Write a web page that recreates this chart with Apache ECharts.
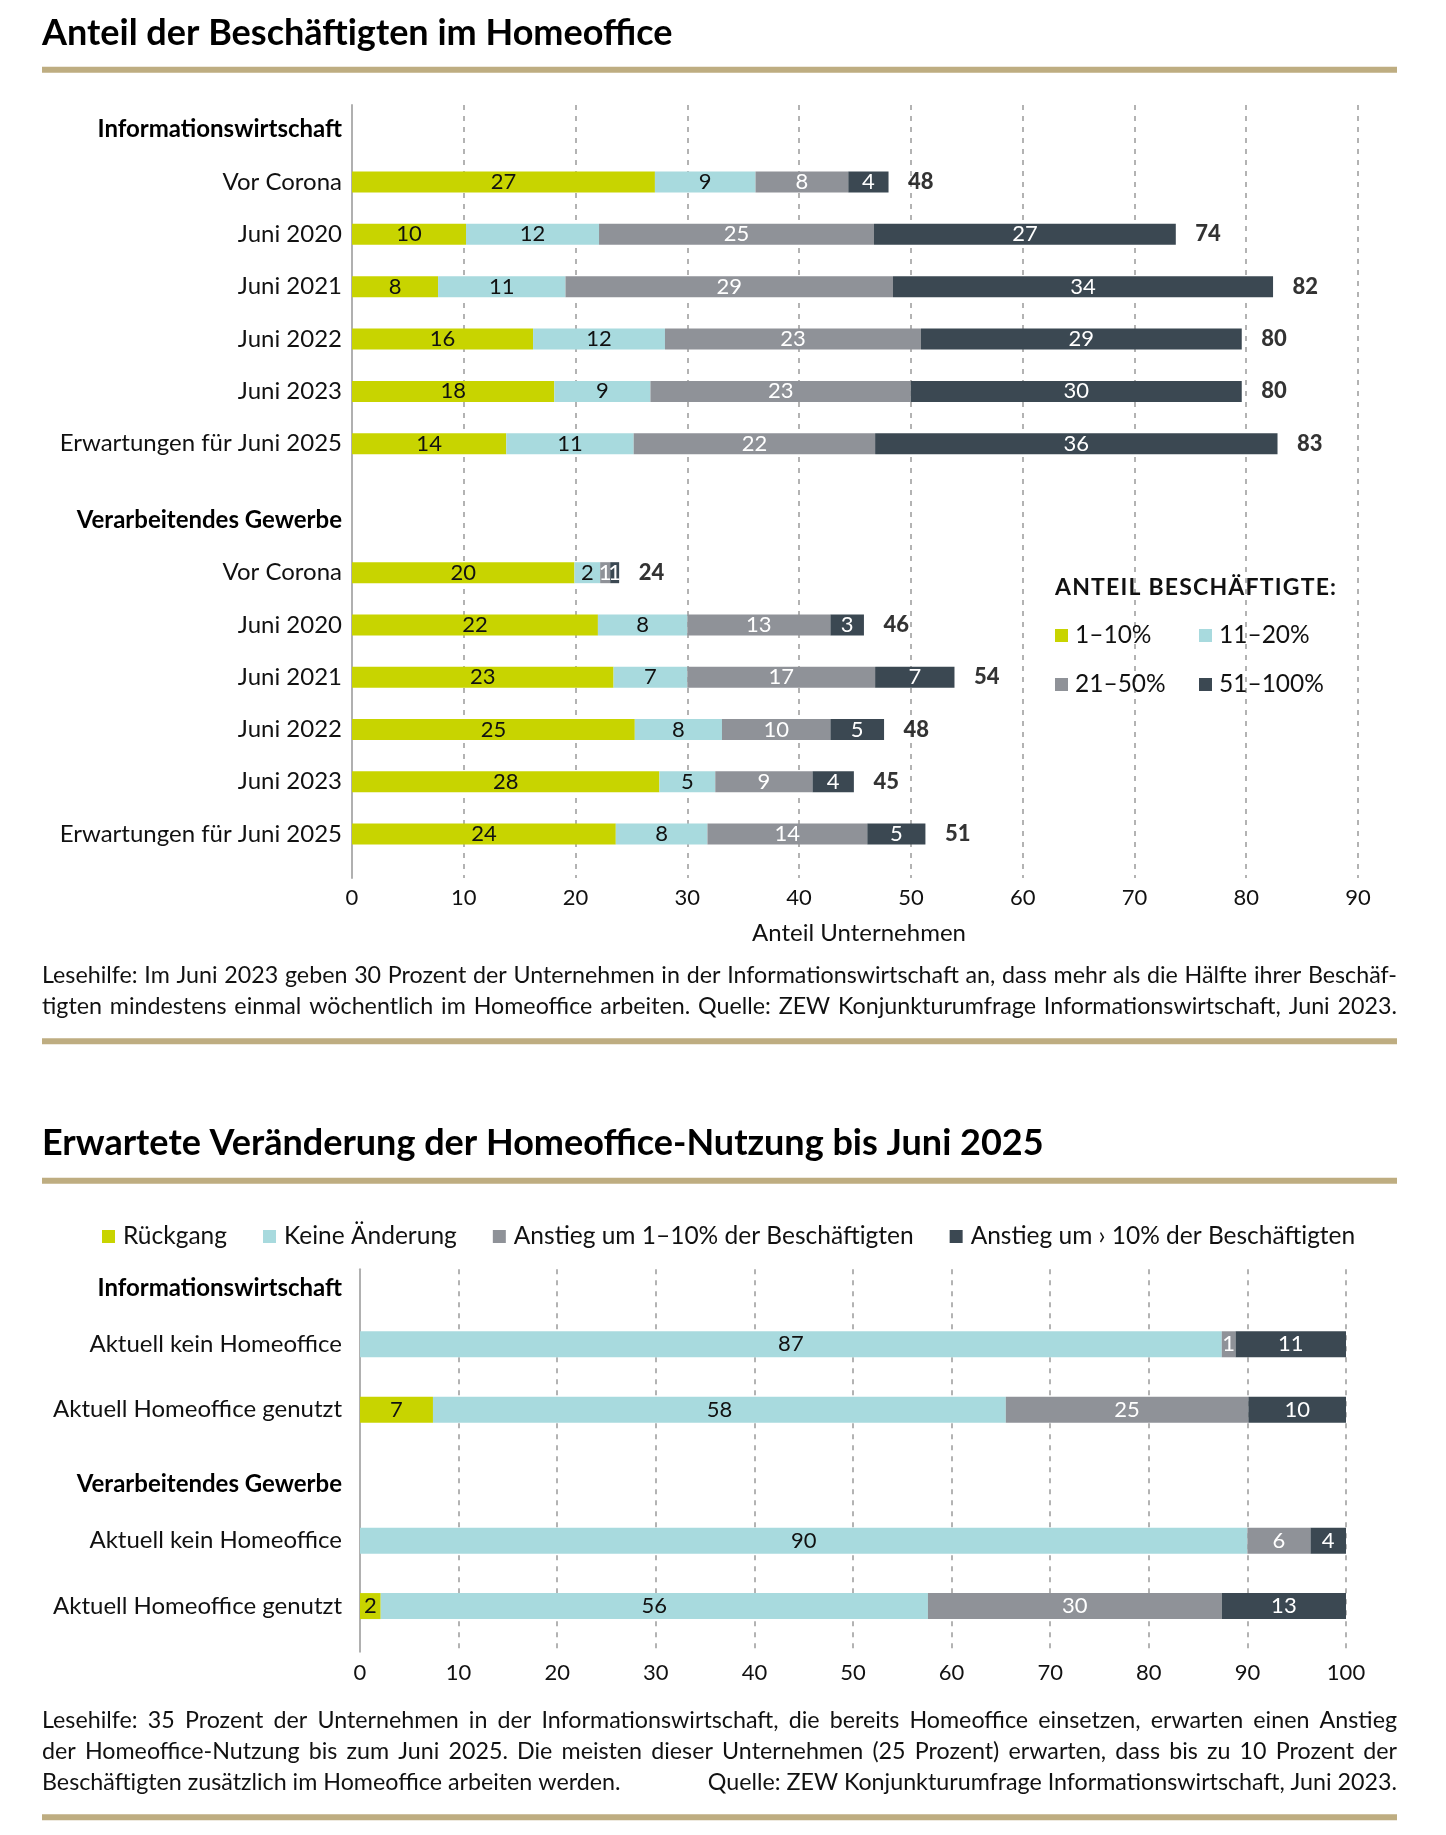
<!DOCTYPE html>
<html><head><meta charset="utf-8">
<script src="https://cdn.jsdelivr.net/npm/echarts@6/dist/echarts.min.js"></script>
<style>html,body{margin:0;padding:0;background:#fff}#c{width:1446px;height:1835px}</style>
</head><body><div id="c"></div>
<script>
// ---------- data: chart 1 ----------
const rowLabels1 = ['Vor Corona','Juni 2020','Juni 2021','Juni 2022','Juni 2023','Erwartungen für Juni 2025'];
const groupLabels = ['Informationswirtschaft','Verarbeitendes Gewerbe'];
const shareNames = ['1–10%','11–20%','21–50%','51–100%'];
const infoShare1to10   = [27.1, 10.2, 7.7, 16.2, 18.1, 13.8];
const infoShare11to20  = [9.0, 11.9, 11.4, 11.8, 8.6, 11.4];
const infoShare21to50  = [8.3, 24.6, 29.3, 22.9, 23.3, 21.6];
const infoShare51to100 = [3.6, 27.0, 34.0, 28.7, 29.6, 36.0];
const verShare1to10    = [19.9, 22.0, 23.4, 25.3, 27.5, 23.6];
const verShare11to20   = [2.3, 8.0, 6.6, 7.8, 5.0, 8.2];
const verShare21to50   = [0.9, 12.8, 16.8, 9.7, 8.7, 14.3];
const verShare51to100  = [0.8, 3.0, 7.1, 4.8, 3.7, 5.2];
const axis1Max = 90, axis1Step = 10;

// ---------- data: chart 2 ----------
const rowLabels2 = ['Aktuell kein Homeoffice','Aktuell Homeoffice genutzt'];
const changeNames = ['Rückgang','Keine Änderung','Anstieg um 1–10% der Beschäftigten','Anstieg um › 10% der Beschäftigten'];
// order: Info kein HO, Info HO genutzt, Verarb kein HO, Verarb HO genutzt
const changeDecline = [0, 7.4, 0, 2.1];
const changeNone    = [87.4, 58.1, 90.0, 55.5];
const changeRise1   = [1.4, 24.6, 6.4, 29.8];
const changeRise2   = [11.2, 9.9, 3.6, 12.6];
const axis2Max = 100, axis2Step = 10;

// ---------- texts ----------
const title1 = 'Anteil der Beschäftigten im Homeoffice';
const title2 = 'Erwartete Veränderung der Homeoffice-Nutzung bis Juni 2025';
const legendTitle1 = 'ANTEIL BESCHÄFTIGTE:';
const axisName1 = 'Anteil Unternehmen';
const note1 = [
  'Lesehilfe: Im Juni 2023 geben 30 Prozent der Unternehmen in der Informationswirtschaft an, dass mehr als die Hälfte ihrer Beschäf-',
  'tigten mindestens einmal wöchentlich im Homeoffice arbeiten. Quelle: ZEW Konjunkturumfrage Informationswirtschaft, Juni 2023.'
];
const note2 = [
  'Lesehilfe: 35 Prozent der Unternehmen in der Informationswirtschaft, die bereits Homeoffice einsetzen, erwarten einen Anstieg',
  'der Homeoffice-Nutzung bis zum Juni 2025. Die meisten dieser Unternehmen (25 Prozent) erwarten, dass bis zu 10 Prozent der'
];
const note2Last = 'Beschäftigten zusätzlich im Homeoffice arbeiten werden.';
const note2Source = 'Quelle: ZEW Konjunkturumfrage Informationswirtschaft, Juni 2023.';

// ---------- style ----------
const FONT = 'Lato';
const TXT = '#111111';
const GOLD = '#BEAD81';
const COLORS = ['#C8D400','#A8DADE','#8F9298','#3B4852'];
const INLABEL = ['#111111','#111111','#ffffff','#ffffff'];
const GRIDC = '#9a9a9a';

const chart = echarts.init(document.getElementById('c'), null, {renderer:'canvas', width:1446, height:1835});

const mctx = document.createElement('canvas').getContext('2d');
function textW(t, size, weight){ mctx.font = (weight||'normal') + ' ' + size + 'px ' + FONT; return mctx.measureText(t).width; }

function T(text, x, y, size, o){
  o = o || {};
  return {type:'text', x:x, y:y, silent:true, z:10,
    style:{text:text, fontFamily:FONT, fontSize:size, fontWeight:o.weight||'normal', fill:o.color||TXT,
      align:o.align||'left', verticalAlign:'middle', textAlign:o.align||'left', textVerticalAlign:'middle'}};
}
function goldLine(y){ return {type:'rect', silent:true, shape:{x:42, y:y, width:1355, height:6}, style:{fill:GOLD}}; }

// letter-spaced text spanning a given width
function spaced(text, x, y, size, weight, width){
  const chars = Array.from(text);
  const ws = chars.map(c => textW(c, size, weight));
  const sp = (width - ws.reduce((a,b)=>a+b,0)) / (chars.length - 1);
  const out = []; let cx = x;
  chars.forEach((c,i) => { if (c !== ' ') out.push(T(c, cx, y, size, {weight:weight})); cx += ws[i] + sp; });
  return out;
}

const X0 = 42, X1 = 1397;
function fitSize(lines, maxSize){
  let s = maxSize;
  while (s > 12 && lines.some(l => textW(l, s) > (X1 - X0) - 4)) s -= 0.25;
  return s;
}
function justify(text, y, size){
  const words = text.split(' ');
  const ws = words.map(w => textW(w, size));
  const total = ws.reduce((a,b)=>a+b, 0);
  const gap = (X1 - X0 - total) / (words.length - 1);
  let x = X0; const out = [];
  words.forEach((w,i) => { out.push(T(w, x, y, size)); x += ws[i] + gap; });
  return out;
}

const noteSize = fitSize(note1.concat(note2), 24);

// ---------- series builders ----------
function barSeries(names, sets, xi, yi, stack, barW, build){
  return sets.map((arr, k) => ({
    type:'bar', name:names[k], stack:stack, xAxisIndex:xi, yAxisIndex:yi, barWidth:barW,
    data: build(arr), silent:true, emphasis:{disabled:true},
    itemStyle:{color:COLORS[k]},
    label:{show:true, position:'inside', color:INLABEL[k], fontFamily:FONT, fontSize:22,
      formatter: p => (p.value ? String(Math.round(p.value)) : '')}
  }));
}
const withHeader1 = arr => [null].concat(arr);
const withHeader2 = arr => [null, arr[0], arr[1], null, arr[2], arr[3]];

function totalSeries(sets, xi, yi){
  const totals = sets[0].map((_, i) => sets.reduce((s, a) => s + a[i], 0));
  return {type:'scatter', xAxisIndex:xi, yAxisIndex:yi, symbolSize:1, silent:true,
    itemStyle:{color:'rgba(0,0,0,0)'},
    data: totals.map((t, i) => [t, i + 1]),
    label:{show:true, position:'right', distance:19, fontFamily:FONT, fontWeight:900, fontSize:22, color:'#000000',
      formatter: p => String(Math.round(p.value[0] + 1e-9))}};
}

const infoSets = [infoShare1to10, infoShare11to20, infoShare21to50, infoShare51to100];
const verSets  = [verShare1to10, verShare11to20, verShare21to50, verShare51to100];
const changeSets = [changeDecline, changeNone, changeRise1, changeRise2];

function catAxis(gi, labels, margin, headerIdx, headerPad){
  return {type:'category', gridIndex:gi, inverse:true, data:labels,
    axisLine:{show:false}, axisTick:{show:false}, splitLine:{show:false},
    axisLabel:{margin:margin, fontFamily:FONT, fontSize:24, color:TXT,
      formatter:(v, i) => headerIdx.indexOf(i) >= 0 ? '{h|' + v + '}' : v,
      rich:{h:{fontFamily:FONT, fontSize:24, fontWeight:'bold', color:'#000000', padding:[headerPad,0,0,0]}}}};
}
function bgX(gi, max, step, margin){
  return {type:'value', gridIndex:gi, min:0, max:max, interval:step,
    axisLine:{show:false}, axisTick:{show:false},
    axisLabel:{margin:margin, fontFamily:FONT, fontSize:22, color:TXT},
    splitLine:{show:true, lineStyle:{color:GRIDC, type:[5,6], width:1.5}}};
}
function bgY(gi){
  return {type:'value', gridIndex:gi, min:0, max:1, axisLabel:{show:false}, axisTick:{show:false}, splitLine:{show:false},
    axisLine:{show:true, lineStyle:{color:'#b0b0b0', width:2}}};
}
function hidX(gi, max){ return {type:'value', gridIndex:gi, min:0, max:max, show:false}; }

const legendText = {fontFamily:FONT, fontSize:24.5, color:TXT, padding:[0,0,0,2]};

const option = {
  animation:false,
  backgroundColor:'#ffffff',
  grid:[
    {left:352, width:1006, top:105, height:773},
    {left:352, width:1006, top:103.5, height:366.4},
    {left:352, width:1006, top:494.3, height:365.8},
    {left:360, width:986, top:1269.3, height:382.4},
    {left:360, width:986, top:1246.1, height:392.7}
  ],
  xAxis:[ bgX(0, axis1Max, axis1Step, 9), hidX(1, axis1Max), hidX(2, axis1Max), bgX(3, axis2Max, axis2Step, 10), hidX(4, axis2Max) ],
  yAxis:[
    bgY(0),
    catAxis(1, [groupLabels[0]].concat(rowLabels1), 10, [0], 0),
    catAxis(2, [groupLabels[1]].concat(rowLabels1), 10, [0], 0),
    bgY(3),
    catAxis(4, [groupLabels[0], rowLabels2[0], rowLabels2[1], groupLabels[1], rowLabels2[0], rowLabels2[1]], 18, [0,3], 18)
  ],
  legend:[
    {orient:'vertical', left:1055, top:623, itemGap:24, padding:0, icon:'rect', itemWidth:13, itemHeight:13, selectedMode:false,
      data:[shareNames[0], shareNames[2]], textStyle:legendText},
    {orient:'vertical', left:1199, top:623, itemGap:24, padding:0, icon:'rect', itemWidth:13, itemHeight:13, selectedMode:false,
      data:[shareNames[1], shareNames[3]], textStyle:legendText},
    {orient:'horizontal', left:102, top:1224, itemGap:36, padding:0, icon:'rect', itemWidth:13, itemHeight:13, selectedMode:false,
      data:changeNames, textStyle:Object.assign({}, legendText, {padding:[0,0,0,3]})}
  ],
  series: []
    .concat(barSeries(shareNames, infoSets, 1, 1, 'info', 21, withHeader1))
    .concat([totalSeries(infoSets, 1, 1)])
    .concat(barSeries(shareNames, verSets, 2, 2, 'ver', 21, withHeader1))
    .concat([totalSeries(verSets, 2, 2)])
    .concat(barSeries(changeNames, changeSets, 4, 4, 'chg', 26, withHeader2)),
  graphic:[].concat(
    [T(title1, 42, 33, 36, {weight:'bold', color:'#000000'}), goldLine(66.7),
     T(axisName1, 859, 933, 24, {align:'center'})],
    spaced(legendTitle1, 1055, 588, 23, 'bold', 281),
    justify(note1[0], 975, noteSize), justify(note1[1], 1006.7, noteSize),
    [goldLine(1038.3), T(title2, 42, 1143, 36, {weight:'bold', color:'#000000'}), goldLine(1177.7)],
    justify(note2[0], 1720, noteSize), justify(note2[1], 1751.7, noteSize),
    [T(note2Last, X0, 1782.7, noteSize), T(note2Source, X1, 1782.7, noteSize, {align:'right'}), goldLine(1814.3)]
  )
};
chart.setOption(option);
</script>
</body></html>
